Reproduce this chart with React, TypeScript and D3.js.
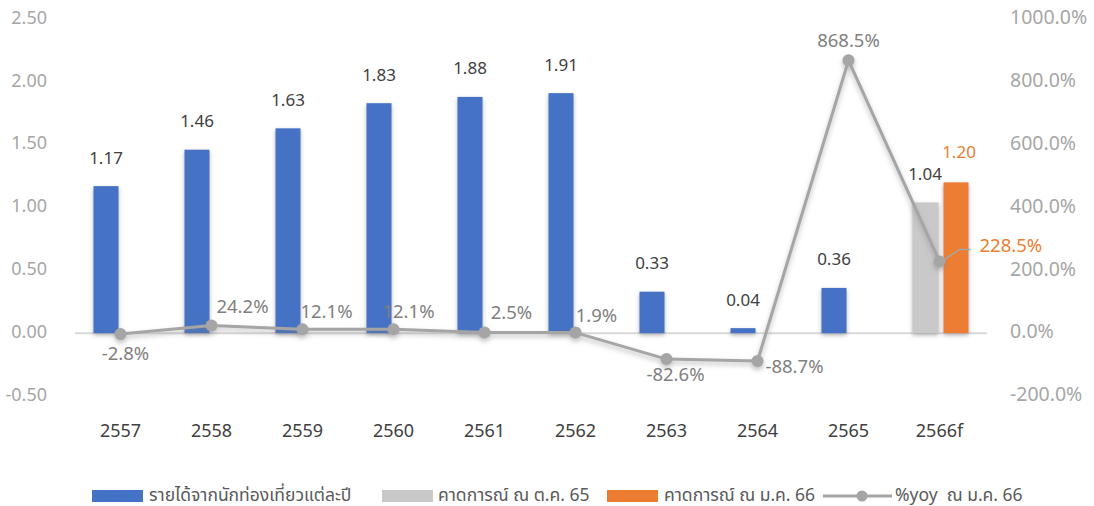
import React from "react";
import * as d3 from "d3";

const categories = ["2557", "2558", "2559", "2560", "2561", "2562", "2563", "2564", "2565", "2566f"];
const revenue: (number | null)[] = [1.17, 1.46, 1.63, 1.83, 1.88, 1.91, 0.33, 0.04, 0.36, null];
const forecastOct65: (number | null)[] = [null, null, null, null, null, null, null, null, null, 1.04];
const forecastJan66: (number | null)[] = [null, null, null, null, null, null, null, null, null, 1.2];
const yoy = [-2.8, 24.2, 12.1, 12.1, 2.5, 1.9, -82.6, -88.7, 868.5, 228.5];
const leftTicks = [-0.5, 0, 0.5, 1, 1.5, 2, 2.5];
const rightTicks = [-200, 0, 200, 400, 600, 800, 1000];
const legendLabels = ["รายได้จากนักท่องเที่ยวแต่ละปี", "คาดการณ์ ณ ต.ค. 65", "คาดการณ์ ณ ม.ค. 66", "%yoy  ณ ม.ค. 66"];

// label layout offsets (dx, dy) for the yoy labels relative to their points
const yoyLabelOffsets: [number, number][] = [
  [5, 21], [31, -18], [24, -16], [15, -16], [27, -18], [21, -16], [9, 17], [37, 7], [0, -18], [40, -14],
];

const W = 1094;
const H = 506;
const FONT = "'Noto Sans', 'Noto Sans Thai', Tahoma, 'DejaVu Sans', sans-serif";

const locale = d3.formatLocale({ decimal: ".", thousands: ",", grouping: [3], currency: ["", ""], minus: "-" });
const f2 = locale.format(".2f");
const f1 = locale.format(".1f");

export default function App() {
  const x = d3.scaleBand<string>().domain(categories).range([75, 985]).paddingInner(0).paddingOuter(0);
  const yL = d3.scaleLinear().domain([-0.5, 2.5]).range([396, 19]);
  const yR = d3.scaleLinear().domain([-200, 1000]).range([396, 19]);
  const cx = (c: string) => (x(c) as number) + x.bandwidth() / 2;
  const barW = 25;
  const leftSlot = (c: string) => cx(c) - 27;
  const rightSlot = (c: string) => cx(c) + 4;
  const y0 = yL(0);

  const line = d3
    .line<number>()
    .x((_, i) => cx(categories[i]))
    .y((d) => yR(d));

  const blue = "#4472C4";
  const gray = "#C9C9C9";
  const orange = "#ED7D31";
  const lineColor = "#A5A5A5";

  const lastIdx = categories.length - 1;
  const lastPt: [number, number] = [cx(categories[lastIdx]), yR(yoy[lastIdx])];

  return (
    <div style={{ position: "absolute", left: 0, top: 0 }}>
      <svg width={W} height={H} style={{ display: "block", fontFamily: FONT }}>
        <defs>
          <filter id="shadow" x="-50%" y="-20%" width="200%" height="140%">
            <feDropShadow dx="0" dy="2" stdDeviation="2" floodColor="#7f7f7f" floodOpacity="0.6" />
          </filter>
          <filter id="lshadow" x="-10%" y="-10%" width="120%" height="130%">
            <feDropShadow dx="0" dy="3" stdDeviation="2.5" floodColor="#7f7f7f" floodOpacity="0.5" />
          </filter>
        </defs>
        <rect width={W} height={H} fill="#fff" />

        {/* left axis */}
        {leftTicks.map((t) => (
          <text key={"l" + t} x={47} y={yL(t)} textAnchor="end" dominantBaseline="middle" fontSize={18} fill="#A6A6A6">
            {f2(t)}
          </text>
        ))}
        {/* right axis */}
        {rightTicks.map((t) => (
          <text key={"r" + t} x={1010} y={yR(t)} textAnchor="start" dominantBaseline="middle" fontSize={19.5} fill="#A6A6A6">
            {f1(t) + "%"}
          </text>
        ))}

        {/* zero line */}
        <line x1={75} x2={987} y1={y0} y2={y0} stroke="#D9D9D9" strokeWidth={2} />

        {/* bars */}
        <g filter="url(#shadow)">
          {categories.map((c, i) =>
            revenue[i] != null ? (
              <rect key={"b" + c} x={leftSlot(c)} y={yL(revenue[i] as number)} width={barW} height={y0 - yL(revenue[i] as number)} fill={blue} />
            ) : null
          )}
          {categories.map((c, i) =>
            forecastOct65[i] != null ? (
              <rect key={"g" + c} x={leftSlot(c)} y={yL(forecastOct65[i] as number)} width={barW + 1} height={y0 - yL(forecastOct65[i] as number)} fill={gray} />
            ) : null
          )}
          {categories.map((c, i) =>
            forecastJan66[i] != null ? (
              <rect key={"o" + c} x={rightSlot(c)} y={yL(forecastJan66[i] as number)} width={barW} height={y0 - yL(forecastJan66[i] as number)} fill={orange} />
            ) : null
          )}
        </g>

        {/* bar labels */}
        {categories.map((c, i) =>
          revenue[i] != null ? (
            <text key={"bl" + c} x={leftSlot(c) + barW / 2} y={yL(revenue[i] as number) - 27} textAnchor="middle" dominantBaseline="middle" fontSize={17} fill="#404040">
              {f2(revenue[i] as number)}
            </text>
          ) : null
        )}
        {categories.map((c, i) =>
          forecastOct65[i] != null ? (
            <text key={"gl" + c} x={leftSlot(c) + barW / 2} y={yL(forecastOct65[i] as number) - 27} textAnchor="middle" dominantBaseline="middle" fontSize={17} fill="#404040">
              {f2(forecastOct65[i] as number)}
            </text>
          ) : null
        )}
        {categories.map((c, i) =>
          forecastJan66[i] != null ? (
            <text key={"ol" + c} x={rightSlot(c) + barW / 2 + 3} y={yL(forecastJan66[i] as number) - 29} textAnchor="middle" dominantBaseline="middle" fontSize={17} fill={orange}>
              {f2(forecastJan66[i] as number)}
            </text>
          ) : null
        )}

        {/* yoy line */}
        <g filter="url(#lshadow)">
          <path d={line(yoy) as string} fill="none" stroke={lineColor} strokeWidth={3} strokeLinejoin="round" />
          {yoy.map((v, i) => (
            <circle key={"p" + i} cx={cx(categories[i])} cy={yR(v)} r={6} fill={lineColor} />
          ))}
        </g>

        {/* leader line for last label */}
        <polyline
          points={`${lastPt[0] + 2},${lastPt[1]} ${lastPt[0] + 20},${lastPt[1] - 12} ${lastPt[0] + 31},${lastPt[1] - 12}`}
          fill="none"
          stroke={lineColor}
          strokeWidth={1.5}
        />

        {/* yoy labels */}
        {yoy.map((v, i) => {
          const [dx, dy] = yoyLabelOffsets[i];
          const isLast = i === lastIdx;
          return (
            <text
              key={"yl" + i}
              x={cx(categories[i]) + dx}
              y={yR(v) + dy}
              textAnchor={isLast ? "start" : "middle"}
              dominantBaseline="middle"
              fontSize={18.5}
              fill={isLast ? orange : "#7F7F7F"}
            >
              {f1(v) + "%"}
            </text>
          );
        })}

        {/* category labels */}
        {categories.map((c) => (
          <text key={"c" + c} x={cx(c)} y={432} textAnchor="middle" dominantBaseline="middle" fontSize={18} fill="#404040">
            {c}
          </text>
        ))}

        {/* legend */}
        <g fontSize={17.5} fill="#595959">
          <rect x={92} y={490} width={51} height={12} fill={blue} />
          <text x={149} y={496} dominantBaseline="middle">{legendLabels[0]}</text>
          <rect x={382} y={490} width={51} height={12} fill={gray} />
          <text x={438} y={496} dominantBaseline="middle">{legendLabels[1]}</text>
          <rect x={607} y={490} width={51} height={12} fill={orange} />
          <text x={664} y={496} dominantBaseline="middle">{legendLabels[2]}</text>
          <line x1={823} x2={892} y1={496} y2={496} stroke={lineColor} strokeWidth={3} />
          <circle cx={862} cy={496} r={5.5} fill={lineColor} />
          <text x={895} y={496} dominantBaseline="middle" style={{ whiteSpace: "pre" }}>{legendLabels[3]}</text>
        </g>
      </svg>
    </div>
  );
}
